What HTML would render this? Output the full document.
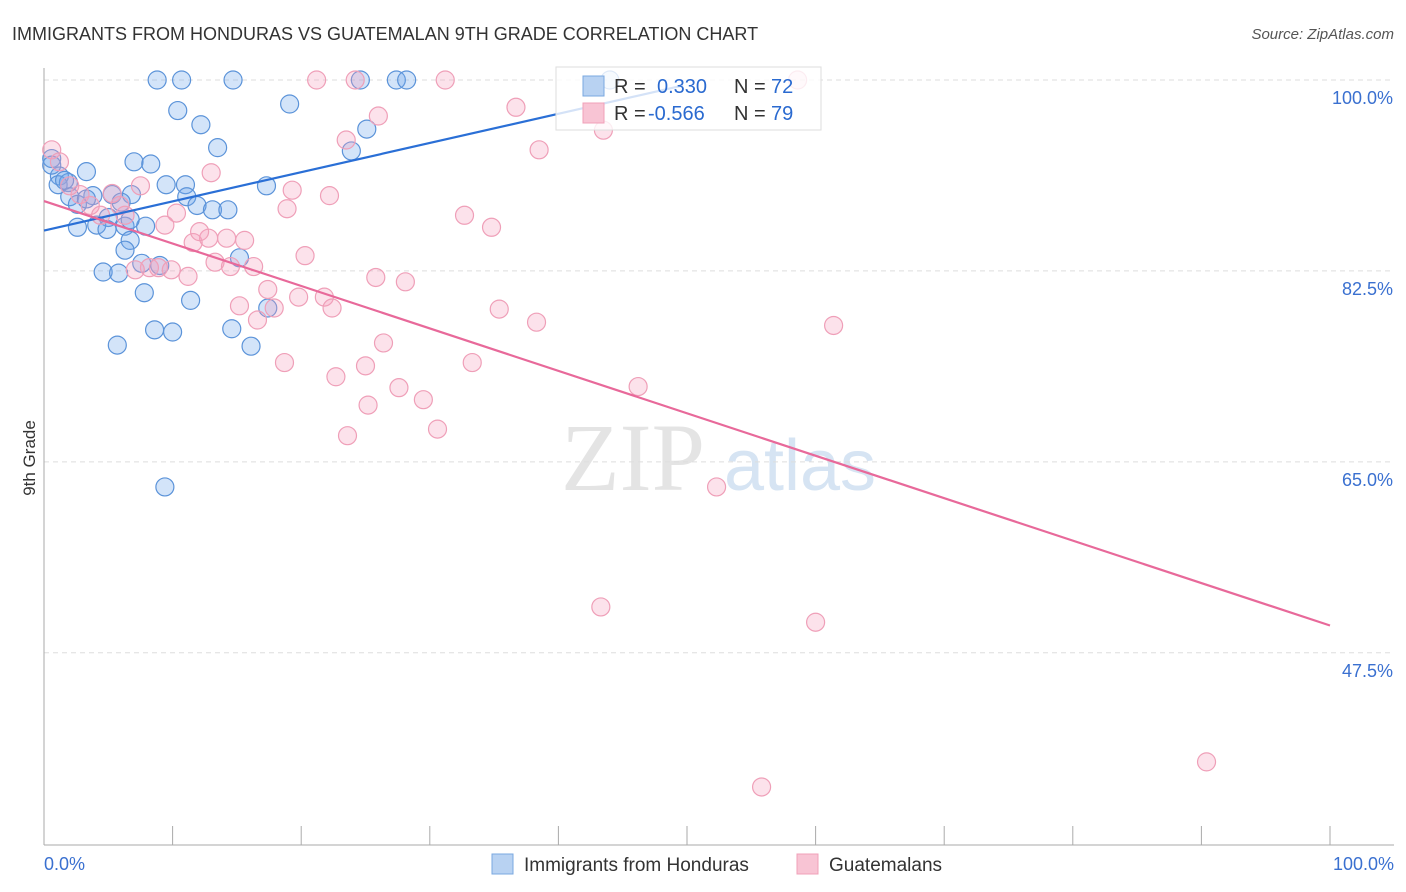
<!DOCTYPE html>
<html><head><meta charset="utf-8"><style>
body{margin:0;background:#fff;font-family:"Liberation Sans",sans-serif;}
#wrap{position:relative;width:1406px;height:892px;overflow:hidden;}
</style></head><body>
<div id="wrap">
<svg id="svg" width="1406" height="892" xmlns="http://www.w3.org/2000/svg">
<text x="12" y="40" font-size="18" fill="#333">IMMIGRANTS FROM HONDURAS VS GUATEMALAN 9TH GRADE CORRELATION CHART</text>
<text x="1394" y="39" font-size="15" fill="#555" font-style="italic" text-anchor="end">Source: ZipAtlas.com</text>
<text x="35" y="458" font-size="17" fill="#333" text-anchor="middle" transform="rotate(-90 35 458)">9th Grade</text>
<g><text x="633" y="490" font-size="96" fill="#e4e4e4" font-family="Liberation Serif,serif" text-anchor="middle">ZIP</text><text x="800" y="490" font-size="72" fill="#d6e4f3" text-anchor="middle">atlas</text></g>
<g id="grid"></g><g id="axes"></g><g id="pts"></g><g id="lines"></g>
<g>
<rect x="556" y="67" width="265" height="63" fill="rgba(255,255,255,0.8)" stroke="#ddd"/>
<rect x="583" y="76" width="21" height="20" fill="#b8d2f2" stroke="#7aa8e0"/>
<rect x="583" y="103" width="21" height="20" fill="#f8c4d4" stroke="#f0a0b8"/>
<text x="614" y="93" font-size="20" fill="#333">R = </text><text x="657" y="93" font-size="20" fill="#2a6ad0">0.330</text>
<text x="734" y="93" font-size="20" fill="#333">N = </text><text x="771" y="93" font-size="20" fill="#2a6ad0">72</text>
<text x="614" y="120" font-size="20" fill="#333">R = </text><text x="648" y="120" font-size="20" fill="#2a6ad0">-0.566</text>
<text x="734" y="120" font-size="20" fill="#333">N = </text><text x="771" y="120" font-size="20" fill="#2a6ad0">79</text>
</g>
<g>
<rect x="492" y="854" width="21" height="20" fill="#b8d2f2" stroke="#7aa8e0"/>
<text x="524" y="871" font-size="19" fill="#333">Immigrants from Honduras</text>
<rect x="797" y="854" width="21" height="20" fill="#f8c4d4" stroke="#f0a0b8"/>
<text x="829" y="871" font-size="19" fill="#333">Guatemalans</text>
</g>
</svg></div>
<script>
const yTicks=[100,82.5,65,47.5];
const yTickLabels=["100.0%","82.5%","65.0%","47.5%"];
const xTickLabels=["0.0%","100.0%"];
const blueX=[8.8,10.7,14.7,24.6,27.4,28.2,44.0,10.4,19.1,12.2,25.1,13.5,23.9,0.6,7.0,8.3,3.3,1.2,9.5,11.0,17.3,1.1,1.9,3.8,2.0,2.6,5.3,6.8,11.1,11.9,13.1,14.3,3.3,6.0,5.0,4.1,2.6,4.9,6.3,7.9,6.7,6.3,9.0,7.6,4.6,5.8,15.2,7.8,11.4,8.6,14.6,10.0,5.7,16.1,17.4,9.4,0.6,6.7,1.6];
const blueY=[100,100,100,100,100,100,100,97.2,97.8,95.9,95.5,93.8,93.5,92.8,92.5,92.3,91.6,91.2,90.4,90.4,90.3,90.4,90.6,89.4,89.3,88.6,89.5,89.5,89.3,88.5,88.1,88.1,89.1,88.8,87.4,86.7,86.5,86.3,86.6,86.6,85.3,84.4,83.0,83.2,82.4,82.3,83.7,80.5,79.8,77.1,77.2,76.9,75.7,75.6,79.1,62.7,92.2,87.2,90.8];
const pinkX=[21.2,24.2,31.2,58.6,36.7,26.0,23.5,38.5,43.5,0.6,1.2,2.0,2.8,3.6,5.3,7.5,13.0,19.3,18.9,22.2,10.3,9.4,4.4,6.3,11.6,12.8,14.2,15.6,12.1,20.3,34.8,32.7,13.3,14.5,16.3,8.2,8.9,9.9,11.2,25.8,28.1,17.4,19.8,21.8,22.4,15.2,16.6,17.9,35.4,38.3,61.4,26.4,18.7,25.0,33.3,22.7,27.6,29.5,25.2,46.2,23.6,30.6,52.3,43.3,60.0,55.8,90.4,7.1,5.9];
const pinkY=[100,100,100,100,97.5,96.7,94.5,93.6,95.4,93.6,92.5,90.3,89.5,88.5,89.6,90.3,91.5,89.9,88.2,89.4,87.8,86.7,87.6,87.6,85.1,85.5,85.5,85.3,86.1,83.9,86.5,87.6,83.3,82.9,82.9,82.8,82.8,82.6,82.0,81.9,81.5,80.8,80.1,80.1,79.1,79.3,78.0,79.1,79.0,77.8,77.5,75.9,74.1,73.8,74.1,72.8,71.8,70.7,70.2,71.9,67.4,68.0,62.7,51.7,50.3,35.2,37.5,82.6,88.5];
const blueTrend=[[0,86.2],[49.7,99.5]];
const pinkTrend=[[0,88.9],[100,50.0]];
const X0=44,X1=1330,Y100=80,PXY=10.91;
const xs=v=>X0+v*(X1-X0)/100;
const ys=v=>Y100+(100-v)*PXY;
const NS="http://www.w3.org/2000/svg";
function mk(tag,attrs,parent){const e=document.createElementNS(NS,tag);for(const k in attrs)e.setAttribute(k,attrs[k]);document.getElementById(parent).appendChild(e);return e;}
yTicks.forEach((t,i)=>{
 const g=mk('line',{x1:44,x2:1394,y1:ys(t),y2:ys(t),stroke:'#ddd','stroke-dasharray':'5,4'},'grid');
 
 
 const l=mk('text',{x:1393,y:ys(t)+24,'font-size':18,fill:'#3a70d0','text-anchor':'end'},'axes');
 l.textContent=yTickLabels[i];
 
 
});
const ax=mk('line',{x1:44,x2:44,y1:68,y2:845,stroke:'#aaa'},'axes');


const bx=mk('line',{x1:44,x2:1394,y1:845,y2:845,stroke:'#aaa'},'axes');


for(let i=0;i<=10;i++){
 const t=mk('line',{x1:xs(i*10),x2:xs(i*10),y1:826,y2:845,stroke:'#aaa'},'axes');
 
 
}
[[0,'start',44],[100,'end',1394]].forEach((d,i)=>{
 const l=mk('text',{x:d[2],y:870,'font-size':18,fill:'#3a70d0','text-anchor':d[1]},'axes');
 l.textContent=xTickLabels[i];
 
 
});
blueX.forEach((v,i)=>{
 const c=mk('circle',{cx:xs(v),cy:ys(blueY[i]),r:(v<0.5?14:9),fill:'rgba(110,165,235,0.3)',stroke:'#5b93d9','stroke-width':1.2},'pts');
 
 
});
pinkX.forEach((v,i)=>{
 const c=mk('circle',{cx:xs(v),cy:ys(pinkY[i]),r:(v<0.5?16:9),fill:'rgba(245,160,190,0.3)',stroke:'#ef9fb8','stroke-width':1.2},'pts');
 
 
});
const bl=mk('line',{x1:xs(blueTrend[0][0]),y1:ys(blueTrend[0][1]),x2:xs(blueTrend[1][0]),y2:ys(blueTrend[1][1]),stroke:'#2a6fd6','stroke-width':2.2},'lines');


const pl=mk('line',{x1:xs(pinkTrend[0][0]),y1:ys(pinkTrend[0][1]),x2:xs(pinkTrend[1][0]),y2:ys(pinkTrend[1][1]),stroke:'#e8699a','stroke-width':2.2},'lines');


</script>
</body></html>
